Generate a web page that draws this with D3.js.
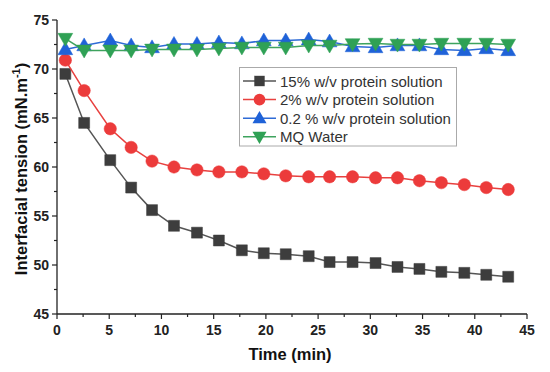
<!DOCTYPE html>
<html><head><meta charset="utf-8">
<script src="https://cdn.jsdelivr.net/npm/d3@7/dist/d3.min.js"></script>
<style>body{margin:0;background:#fff}svg{display:block}</style>
</head><body>
<script>
const times = [0.8, 2.6, 5.1, 7.1, 9.1, 11.2, 13.4, 15.5, 17.7, 19.8, 21.9, 24.1, 26.1, 28.3, 30.5, 32.6, 34.7, 36.8, 39.0, 41.1, 43.2];
const s15 = [69.5, 64.5, 60.7, 57.9, 55.6, 54.0, 53.3, 52.5, 51.5, 51.2, 51.1, 50.9, 50.3, 50.3, 50.2, 49.8, 49.6, 49.3, 49.2, 49.0, 48.8];
const s2 = [70.9, 67.8, 63.9, 62.0, 60.6, 60.0, 59.7, 59.5, 59.5, 59.3, 59.1, 59.0, 59.0, 59.0, 58.9, 58.9, 58.6, 58.4, 58.2, 57.9, 57.7];
const s02 = [72.0, 72.4, 72.9, 72.4, 72.2, 72.55, 72.55, 72.7, 72.6, 72.9, 72.9, 73.0, 72.8, 72.3, 72.2, 72.4, 72.4, 72.0, 71.9, 72.1, 71.9];
const sMQ = [73.1, 71.9, 71.9, 71.9, 72.0, 72.0, 72.0, 72.1, 72.2, 72.2, 72.2, 72.4, 72.4, 72.55, 72.6, 72.5, 72.5, 72.6, 72.6, 72.6, 72.5];
const seriesNames = ["15% w/v protein solution", "2% w/v protein solution", "0.2 % w/v protein solution", "MQ Water"];
const xTicks = [0, 5, 10, 15, 20, 25, 30, 35, 40, 45];
const yTicks = [45, 50, 55, 60, 65, 70, 75];

const W = 550, H = 372;
const svg = d3.select("body").append("svg").attr("width", W).attr("height", H);
const x = d3.scaleLinear().domain([0, 45]).range([57, 527]);
const y = d3.scaleLinear().domain([45, 75]).range([314, 20]);
const font = "Arial, 'Liberation Sans', sans-serif";

const series = [
  {name: seriesNames[0], vals: s15, line: "#555555", fill: "#3d3d3d", sym: d3.symbolSquare, size: 120},
  {name: seriesNames[1], vals: s2, line: "#e8413f", fill: "#ec3b3b", sym: d3.symbolCircle, size: 120},
  {name: seriesNames[2], vals: s02, line: "#2e6bd6", fill: "#1f62d8", sym: d3.symbolTriangle, size: 95},
  {name: seriesNames[3], vals: sMQ, line: "#3ea35e", fill: "#2fa155", sym: d3.symbolTriangle, size: 95, inv: true}
];

// axes
const axisColor = "#222";
const xMinor = d3.range(0, 45.01, 2.5);
const yMinor = d3.range(45, 75.01, 2.5);
const gx = svg.append("g").attr("transform", "translate(0,314)");
gx.append("line").attr("x1", 57).attr("x2", 527).attr("stroke", axisColor).attr("stroke-width", 1.3);
gx.selectAll(".mn").data(xMinor).join("line").attr("x1", d => x(d)).attr("x2", d => x(d)).attr("y1", 0).attr("y2", d => d % 5 === 0 ? 5 : 3).attr("stroke", axisColor).attr("stroke-width", 1.2);
gx.selectAll("text").data(xTicks).join("text").attr("x", d => x(d)).attr("y", 21)
  .attr("text-anchor", "middle").attr("font-family", font).attr("font-weight", "bold").attr("font-size", 14).attr("fill", "#222").text(d => d);

const gy = svg.append("g").attr("transform", "translate(57,0)");
gy.append("line").attr("y1", 20).attr("y2", 314).attr("stroke", axisColor).attr("stroke-width", 1.3);
gy.selectAll(".mn").data(yMinor).join("line").attr("y1", d => y(d)).attr("y2", d => y(d)).attr("x1", 0).attr("x2", d => d % 5 === 0 ? -5 : -3).attr("stroke", axisColor).attr("stroke-width", 1.2);
gy.selectAll("text").data(yTicks).join("text").attr("x", -8).attr("y", d => y(d) + 5)
  .attr("text-anchor", "end").attr("font-family", font).attr("font-weight", "bold").attr("font-size", 14).attr("fill", "#222").text(d => d);

// titles
svg.append("text").attr("x", 290).attr("y", 360).attr("text-anchor", "middle")
  .attr("font-family", font).attr("font-weight", "bold").attr("font-size", 16.5).attr("fill", "#111").text("Time (min)");
const yt = svg.append("text").attr("transform", "translate(27,169) rotate(-90)").attr("text-anchor", "middle")
  .attr("font-family", font).attr("font-weight", "bold").attr("font-size", 16.5).attr("fill", "#111");
yt.append("tspan").text("Interfacial tension (mN.m");
yt.append("tspan").attr("font-size", 11).attr("dy", -7).text("-1");
yt.append("tspan").attr("dy", 7).text(")");

// series
const line = d3.line().x((d, i) => x(times[i])).y(d => y(d));
series.forEach(s => {
  const g = svg.append("g");
  g.append("path").attr("d", line(s.vals)).attr("fill", "none").attr("stroke", s.line).attr("stroke-width", 1.5);
  g.selectAll("path.m").data(s.vals).join("path").attr("class", "m")
    .attr("d", d3.symbol().type(s.sym).size(s.size))
    .attr("transform", (d, i) => `translate(${x(times[i])},${y(d) + (s.sym === d3.symbolTriangle ? (s.inv ? -1 : 1) : 0)})` + (s.inv ? " rotate(180)" : ""))
    .attr("fill", s.fill).attr("stroke", s.fill).attr("stroke-width", 0.5);
});

// legend
const lg = svg.append("g");
lg.append("rect").attr("x", 239.5).attr("y", 67.5).attr("width", 217).attr("height", 78.5)
  .attr("fill", "#fff").attr("stroke", "#aaa").attr("stroke-width", 1);
series.forEach((s, i) => {
  const cy = 81 + i * 18.6;
  lg.append("line").attr("x1", 243).attr("x2", 276).attr("y1", cy).attr("y2", cy).attr("stroke", s.line).attr("stroke-width", 1.5);
  lg.append("path").attr("d", d3.symbol().type(s.sym).size(s.size * 0.9))
    .attr("transform", `translate(259.5,${cy + (s.sym === d3.symbolTriangle ? (s.inv ? -1 : 1) : 0)})` + (s.inv ? " rotate(180)" : ""))
    .attr("fill", s.fill);
  lg.append("text").attr("x", 280).attr("y", cy + 5.5).attr("font-family", font).attr("font-size", 15).attr("fill", "#333").text(s.name);
});
</script>
</body></html>
